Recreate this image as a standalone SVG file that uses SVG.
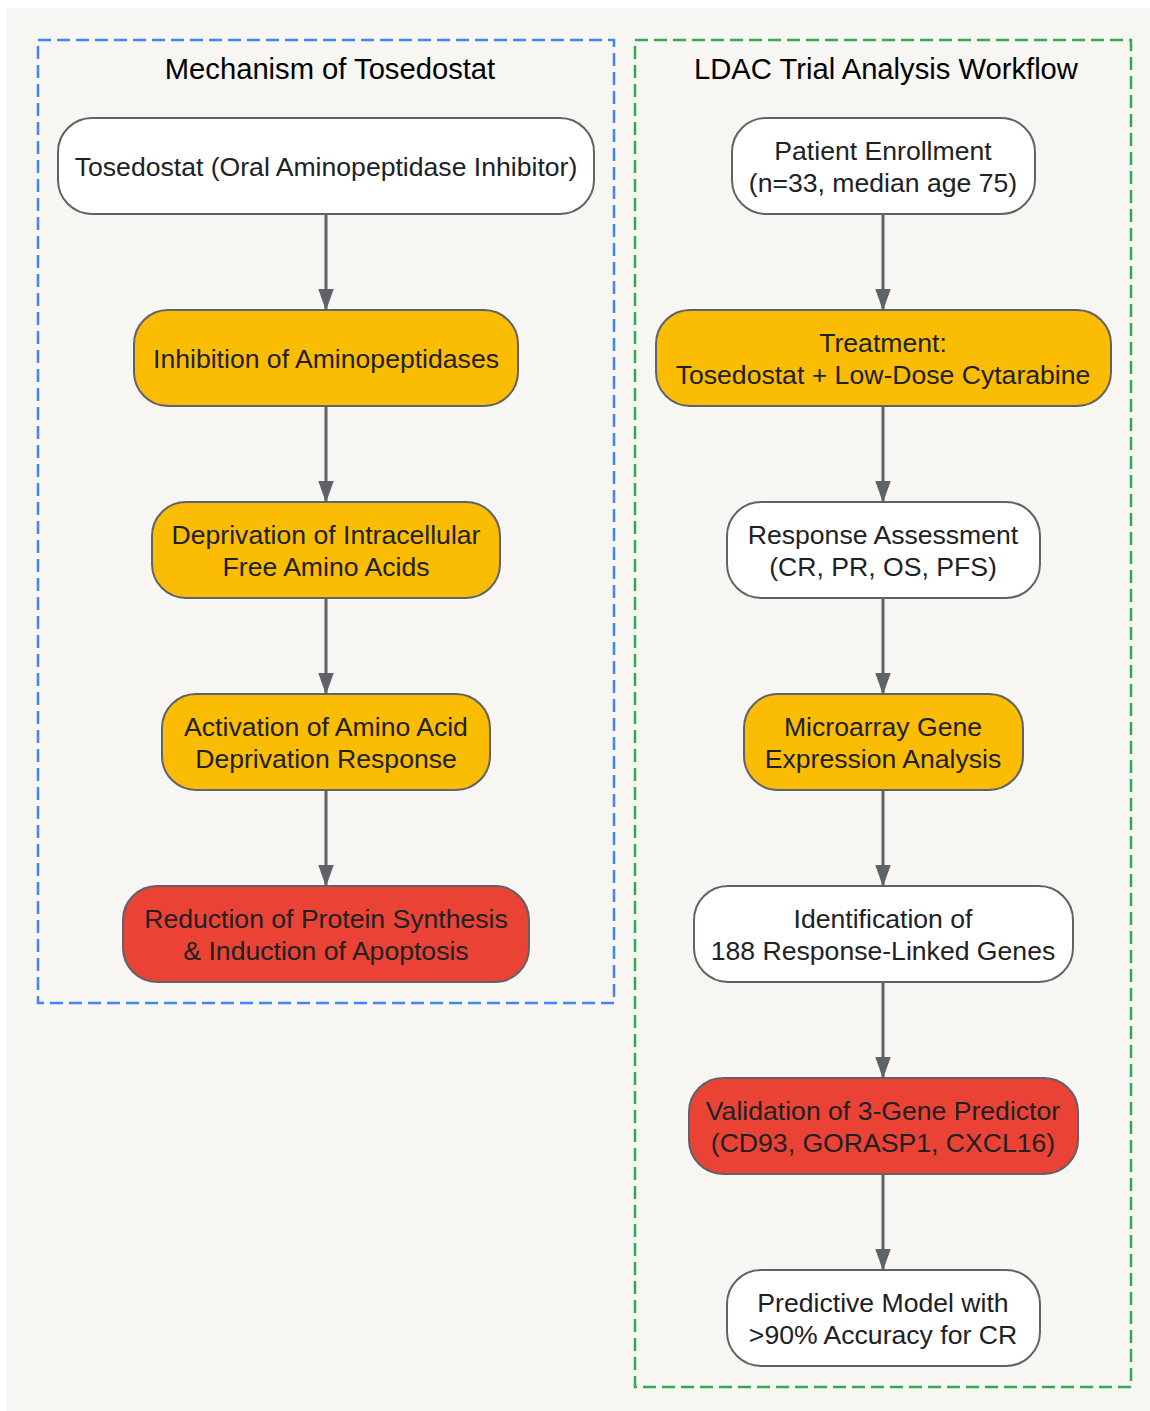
<svg xmlns="http://www.w3.org/2000/svg" width="1150" height="1411" viewBox="0 0 1150 1411">
<style>
.node{stroke:#5f6368;stroke-width:2}
.w{fill:#ffffff}.y{fill:#fbbc04}.r{fill:#ea4335}
.t{font-family:"Liberation Sans",Arial,sans-serif;font-size:26.6px;fill:#202124;text-anchor:middle}
.title{font-family:"Liberation Sans",Arial,sans-serif;font-size:29.2px;fill:#000;text-anchor:middle}
.edge{stroke:#5f6368;stroke-width:3;fill:none}
</style>
<defs>
<marker id="ah" markerUnits="userSpaceOnUse" markerWidth="22" markerHeight="32" refX="30" refY="11" orient="auto" viewBox="0 0 31 22">
<path d="M0,0 L31,11 L0,22 Z" fill="#5f6368"/>
</marker>
</defs>
<rect x="6" y="8" width="1144" height="1403" fill="#f7f6f2"/>
<g id="cluster-mechanism">
<rect x="38" y="40" width="576" height="963" fill="none" stroke="#4285f4" stroke-width="2.5" stroke-dasharray="13,6"/>
<text class="title" x="330" y="79">Mechanism of Tosedostat</text>
</g>
<g id="cluster-workflow">
<rect x="635" y="40" width="496" height="1347" fill="none" stroke="#34a853" stroke-width="2.5" stroke-dasharray="13,6"/>
<text class="title" x="886" y="79">LDAC Trial Analysis Workflow</text>
</g>
<g id="edges">
<line class="edge" x1="326" y1="214" x2="326" y2="310" marker-end="url(#ah)"/>
<line class="edge" x1="326" y1="406" x2="326" y2="502" marker-end="url(#ah)"/>
<line class="edge" x1="326" y1="598" x2="326" y2="694" marker-end="url(#ah)"/>
<line class="edge" x1="326" y1="790" x2="326" y2="886" marker-end="url(#ah)"/>
<line class="edge" x1="883" y1="214" x2="883" y2="310" marker-end="url(#ah)"/>
<line class="edge" x1="883" y1="406" x2="883" y2="502" marker-end="url(#ah)"/>
<line class="edge" x1="883" y1="598" x2="883" y2="694" marker-end="url(#ah)"/>
<line class="edge" x1="883" y1="790" x2="883" y2="886" marker-end="url(#ah)"/>
<line class="edge" x1="883" y1="982" x2="883" y2="1078" marker-end="url(#ah)"/>
<line class="edge" x1="883" y1="1174" x2="883" y2="1270" marker-end="url(#ah)"/>
</g>
<g id="n-tosedostat">
<rect class="node w" x="58" y="118" width="536" height="96" rx="34"/>
<text class="t" x="326" y="176">Tosedostat (Oral Aminopeptidase Inhibitor)</text>
</g>
<g id="n-inhibition">
<rect class="node y" x="134" y="310" width="384" height="96" rx="34"/>
<text class="t" x="326" y="368">Inhibition of Aminopeptidases</text>
</g>
<g id="n-deprivation">
<rect class="node y" x="152" y="502" width="348" height="96" rx="34"/>
<text class="t" x="326" y="544">Deprivation of Intracellular</text>
<text class="t" x="326" y="576">Free Amino Acids</text>
</g>
<g id="n-activation">
<rect class="node y" x="162" y="694" width="328" height="96" rx="34"/>
<text class="t" x="326" y="736">Activation of Amino Acid</text>
<text class="t" x="326" y="768">Deprivation Response</text>
</g>
<g id="n-reduction">
<rect class="node r" x="123" y="886" width="406" height="96" rx="34"/>
<text class="t" x="326" y="928">Reduction of Protein Synthesis</text>
<text class="t" x="326" y="960">&amp; Induction of Apoptosis</text>
</g>
<g id="n-enrollment">
<rect class="node w" x="732" y="118" width="303" height="96" rx="34"/>
<text class="t" x="883" y="160">Patient Enrollment</text>
<text class="t" x="883" y="192">(n=33, median age 75)</text>
</g>
<g id="n-treatment">
<rect class="node y" x="656" y="310" width="455" height="96" rx="34"/>
<text class="t" x="883" y="352">Treatment:</text>
<text class="t" x="883" y="384">Tosedostat + Low-Dose Cytarabine</text>
</g>
<g id="n-response">
<rect class="node w" x="727" y="502" width="313" height="96" rx="34"/>
<text class="t" x="883" y="544">Response Assessment</text>
<text class="t" x="883" y="576">(CR, PR, OS, PFS)</text>
</g>
<g id="n-microarray">
<rect class="node y" x="744" y="694" width="279" height="96" rx="34"/>
<text class="t" x="883" y="736">Microarray Gene</text>
<text class="t" x="883" y="768">Expression Analysis</text>
</g>
<g id="n-identification">
<rect class="node w" x="694" y="886" width="379" height="96" rx="34"/>
<text class="t" x="883" y="928">Identification of</text>
<text class="t" x="883" y="960">188 Response-Linked Genes</text>
</g>
<g id="n-validation">
<rect class="node r" x="689" y="1078" width="389" height="96" rx="34"/>
<text class="t" x="883" y="1120">Validation of 3-Gene Predictor</text>
<text class="t" x="883" y="1152">(CD93, GORASP1, CXCL16)</text>
</g>
<g id="n-predictive">
<rect class="node w" x="727" y="1270" width="313" height="96" rx="34"/>
<text class="t" x="883" y="1312">Predictive Model with</text>
<text class="t" x="883" y="1344">&gt;90% Accuracy for CR</text>
</g>
</svg>
